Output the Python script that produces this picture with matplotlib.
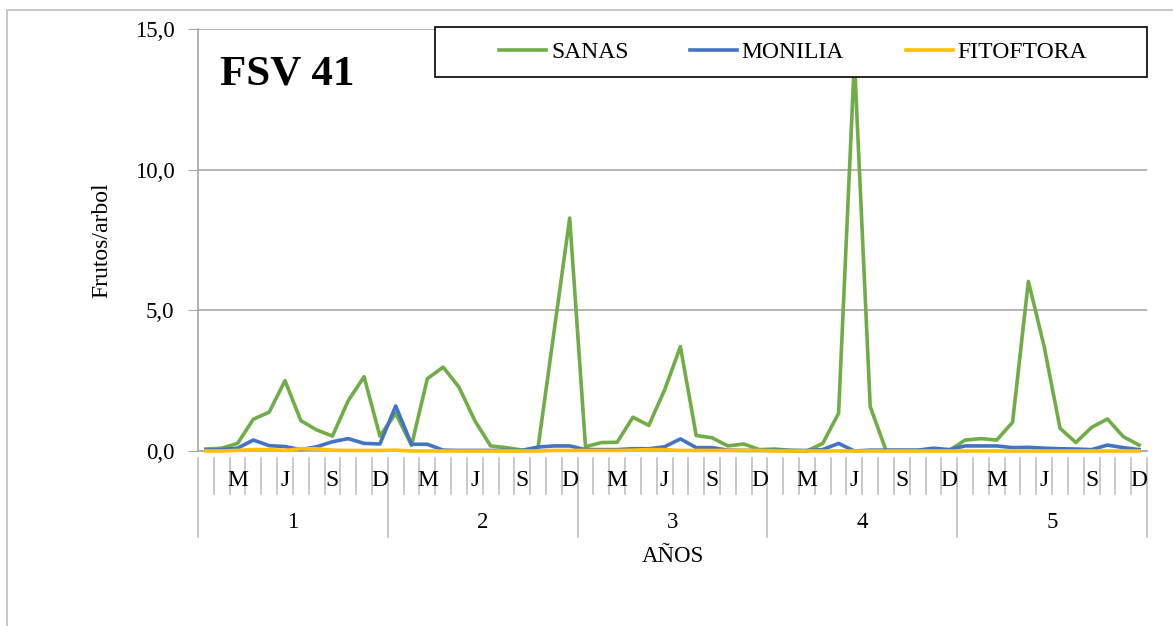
import numpy as np
import matplotlib
matplotlib.use('Agg')
import matplotlib.pyplot as plt
from matplotlib.patches import Rectangle
from matplotlib.ticker import FuncFormatter

plt.rcParams['font.family'] = ['Liberation Serif', 'DejaVu Serif']

# monthly values, 5 years x 12 months
sanas = [0.07, 0.10, 0.27, 1.13, 1.38, 2.50, 1.08, 0.75, 0.53, 1.79, 2.64, 0.53,
         1.34, 0.20, 2.57, 2.98, 2.27, 1.08, 0.18, 0.12, 0.03, 0.12, 4.20, 8.28,
         0.15, 0.30, 0.31, 1.20, 0.91, 2.17, 3.71, 0.55, 0.47, 0.18, 0.25, 0.05,
         0.07, 0.02, 0.00, 0.27, 1.34, 13.90, 1.58, 0.02, 0.02, 0.02, 0.05, 0.02,
         0.39, 0.44, 0.39, 1.02, 6.03, 3.71, 0.81, 0.30, 0.84, 1.14, 0.51, 0.21]
monilia = [0.03, 0.05, 0.10, 0.39, 0.19, 0.16, 0.05, 0.15, 0.33, 0.44, 0.27, 0.25,
           1.60, 0.24, 0.24, 0.03, 0.02, 0.02, 0.02, 0.02, 0.02, 0.14, 0.18, 0.18,
           0.05, 0.05, 0.05, 0.08, 0.08, 0.15, 0.43, 0.12, 0.12, 0.03, 0.02, 0.02,
           0.02, 0.02, 0.02, 0.05, 0.27, 0.00, 0.03, 0.03, 0.03, 0.03, 0.10, 0.05,
           0.18, 0.18, 0.18, 0.12, 0.13, 0.10, 0.08, 0.07, 0.05, 0.21, 0.12, 0.05]
fitoftora = [0.00, 0.00, 0.02, 0.05, 0.05, 0.02, 0.08, 0.08, 0.03, 0.02, 0.02, 0.02,
             0.03, 0.00, 0.00, 0.00, 0.00, 0.00, 0.00, 0.00, 0.00, 0.00, 0.02, 0.02,
             0.02, 0.02, 0.02, 0.03, 0.05, 0.05, 0.02, 0.02, 0.02, 0.02, 0.02, 0.02,
             0.00, 0.00, 0.00, 0.00, 0.00, 0.00, 0.00, 0.00, 0.00, 0.00, 0.00, 0.00,
             0.00, 0.00, 0.00, 0.00, 0.00, 0.00, 0.00, 0.00, 0.00, 0.00, 0.00, 0.00]
months = ['', '', 'M', '', '', 'J', '', '', 'S', '', '', 'D']
years = ['1', '2', '3', '4', '5']
series_names = ['SANAS', 'MONILIA', 'FITOFTORA']
colors = ['#70AD47', '#4472C4', '#FFC000']

W, H = 1173, 626
fig = plt.figure(figsize=(W / 100, H / 100), dpi=100)
ax = fig.add_axes([198 / W, 1 - 451 / H, 949 / W, 422 / H])

x = np.arange(len(sanas))
lines = []
for vals, name, c in zip([sanas, monilia, fitoftora], series_names, colors):
    ln, = ax.plot(x, vals, color=c, lw=2.6, label=name, zorder=3, clip_on=False)
    lines.append(ln)

ax.set_xlim(-0.5, len(sanas) - 0.5)
ax.set_ylim(0, 15)
ax.set_yticks([0, 5, 10, 15])
ax.yaxis.set_major_formatter(FuncFormatter(lambda v, p: f'{v:.1f}'.replace('.', ',')))
ax.grid(axis='y', color='#A6A6A6', lw=1.2)
ax.set_axisbelow(True)
for s in ['top', 'right']:
    ax.spines[s].set_visible(False)
ax.spines['left'].set_color('#A6A6A6')
ax.spines['bottom'].set_color('#A6A6A6')
ax.spines['left'].set_linewidth(1.2)
ax.spines['bottom'].set_linewidth(1.2)
ax.tick_params(axis='y', length=7, color='#A6A6A6', labelsize=16.5, pad=10)
ax.set_xticks([])
ax.set_ylabel('Frutos/arbol', fontsize=17)
ax.yaxis.set_label_coords(-0.09, 0.5)

# multi-level category axis
trans = ax.get_xaxis_transform()
ytop = -7 / 422
for b in range(len(sanas) + 1):
    ybot = -86 / 422 if b % 12 == 0 else -43 / 422
    ax.plot([b - 0.5, b - 0.5], [ytop, ybot], transform=trans, color='#BFBFBF',
            lw=1.2, clip_on=False)
for i in range(len(sanas)):
    lab = months[i % 12]
    if lab:
        ax.text(i, -30 / 422, lab, transform=trans, ha='center', va='center', fontsize=17)
for k, yr in enumerate(years):
    ax.text(k * 12 + 5.5, -72 / 422, yr, transform=trans, ha='center', va='center', fontsize=16.5)
ax.text(0.5, -106 / 422, 'AÑOS', transform=ax.transAxes, ha='center', va='center', fontsize=16.5)

ax.text(22 / 949, 0.893, 'FSV 41', transform=ax.transAxes, fontsize=31,
        fontweight='bold', ha='left', va='center')

# outer chart frame
fig.add_artist(Rectangle((7 / W, -0.1), 2, 1 - 10 / H + 0.1, transform=fig.transFigure,
                         fill=False, edgecolor='#BFBFBF', lw=1.2))
# legend box
fig.add_artist(Rectangle((435 / W, 1 - 77 / H), 712 / W, 50 / H, transform=fig.transFigure,
                         facecolor='white', edgecolor='black', lw=1.2, zorder=3))
fig.legend(handles=lines, loc='center', bbox_to_anchor=(793 / W, 1 - 52 / H),
           ncol=3, frameon=False, fontsize=17, handlelength=2.0, handletextpad=0.2,
           columnspacing=2.6)

fig.savefig('out.png', dpi=100)
